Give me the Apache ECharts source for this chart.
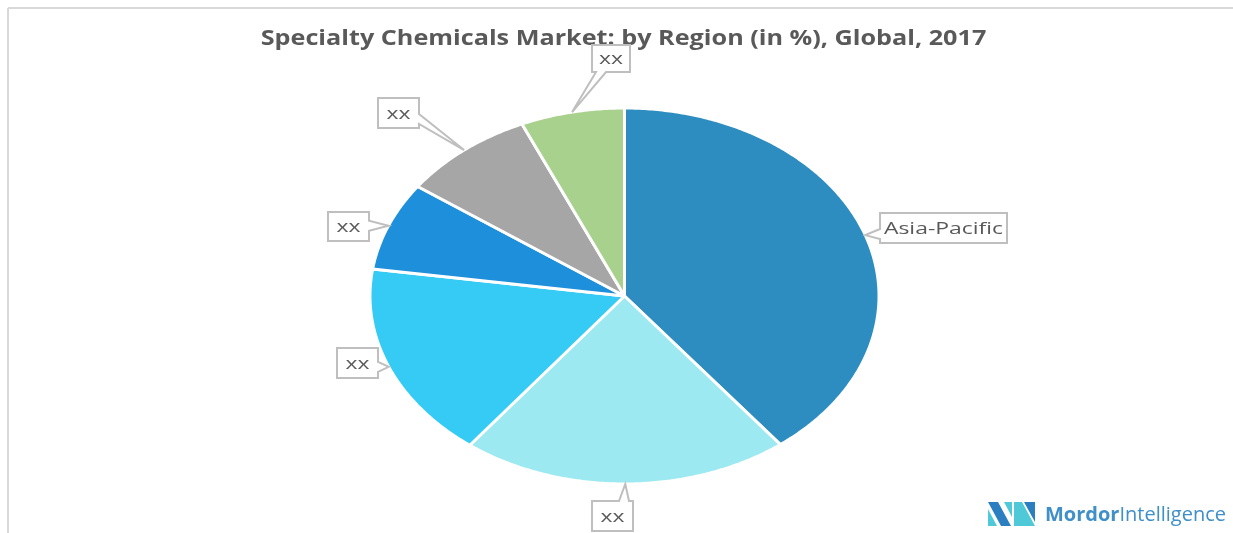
<!DOCTYPE html>
<html>
<head>
<meta charset="utf-8">
<script src="https://cdn.jsdelivr.net/npm/echarts@6/dist/echarts.min.js"></script>
<style>
  html, body { margin: 0; padding: 0; background: #fff; }
  #chart { width: 1233px; height: 533px; }
</style>
</head>
<body>
<div id="chart"></div>
<script>
// data, clockwise from 12 o'clock
const regions = ['Asia-Pacific', 'xx', 'xx', 'xx', 'xx', 'xx'];
const shares = [39.5, 20.9, 16.9, 7.6, 8.5, 6.6];
const sliceColors = ['#2e8dc0', '#9ce9f1', '#36cbf5', '#1e8fdb', '#a6a6a6', '#a9d18e'];

// layout of the callout boxes: x, y, w, h, pointer side
const calloutBoxes = [
  [880, 213, 127, 30, 'left'],
  [592, 501, 41, 30, 'top'],
  [337, 348, 41, 30, 'right'],
  [328, 212, 41, 29, 'right'],
  [378, 98, 41, 30, 'right'],
  [592, 45, 38, 27, 'bottom']
];

const pie = { cx: 624.5, cy: 296, rx: 254.5, ry: 188 };
const total = shares.reduce((a, b) => a + b, 0);
let acc = 0;
const seriesData = shares.map((v, i) => {
  const item = { name: regions[i], value: [v, acc] };
  acc += v;
  return item;
});

function ellipsePt(a) {
  return [pie.cx + pie.rx * Math.sin(a), pie.cy - pie.ry * Math.cos(a)];
}

function calloutPath(box, tip) {
  const [x, y, w, h, side] = box;
  const m = 9, half = 5;
  const clamp = (v, lo, hi) => Math.max(lo, Math.min(hi, v));
  let pts;
  if (side === 'left') {
    const c = clamp(tip[1], y + m, y + h - m);
    pts = [[x, y], [x + w, y], [x + w, y + h], [x, y + h], [x, c + half], tip, [x, c - half]];
  } else if (side === 'right') {
    const c = clamp(tip[1], y + m, y + h - m);
    pts = [[x, y], [x + w, y], [x + w, c - half], tip, [x + w, c + half], [x + w, y + h], [x, y + h]];
  } else if (side === 'top') {
    const c = clamp(tip[0], x + m, x + w - m);
    pts = [[x, y], [c - half, y], tip, [c + half, y], [x + w, y], [x + w, y + h], [x, y + h]];
  } else {
    const c = clamp(tip[0], x + m, x + w - m);
    pts = [[x, y], [x + w, y], [x + w, y + h], [c + half, y + h], tip, [c - half, y + h], [x, y + h]];
  }
  return pts;
}

function renderItem(params, api) {
  const i = params.dataIndex;
  const v = api.value(0);
  const start = api.value(1);
  const a0 = start / total * Math.PI * 2;
  const a1 = (start + v) / total * Math.PI * 2;
  const steps = Math.max(4, Math.ceil((a1 - a0) / 0.01));
  const pts = [[pie.cx, pie.cy]];
  for (let k = 0; k <= steps; k++) {
    pts.push(ellipsePt(a0 + (a1 - a0) * k / steps));
  }
  const tip = ellipsePt((a0 + a1) / 2);
  const box = calloutBoxes[i];
  return {
    type: 'group',
    children: [
      {
        type: 'polygon',
        shape: { points: pts },
        style: { fill: sliceColors[i], stroke: '#ffffff', lineWidth: 3, lineJoin: 'round' },
        z2: 1
      },
      {
        type: 'polygon',
        shape: { points: calloutPath(box, tip) },
        style: { fill: '#ffffff', stroke: '#bfbfbf', lineWidth: 2 },
        z2: 10
      },
      {
        type: 'text',
        x: box[0] + box[2] / 2,
        y: box[1] + box[3] / 2 + 1,
        scaleX: 1.35,
        style: {
          text: regions[i],
          fill: '#595959',
          font: '17px "Open Sans"',
          align: 'center',
          verticalAlign: 'middle'
        },
        z2: 11
      }
    ]
  };
}

const chart = echarts.init(document.getElementById('chart'), null, { renderer: 'canvas' });
chart.setOption({
  backgroundColor: '#ffffff',
  animation: false,
  graphic: [
    { type: 'line', shape: { x1: 8, y1: 8, x2: 1233, y2: 8 }, style: { stroke: '#d9d9d9', lineWidth: 2 } },
    { type: 'line', shape: { x1: 8, y1: 8, x2: 8, y2: 533 }, style: { stroke: '#d9d9d9', lineWidth: 2 } },
    {
      type: 'text', x: 623.5, y: 39, scaleX: 1.2,
      style: {
        text: 'Specialty Chemicals Market: by Region (in %), Global, 2017',
        font: 'bold 21px "Open Sans"',
        fill: '#595959',
        align: 'center',
        verticalAlign: 'middle'
      }
    },
    // logo mark
    { type: 'polygon', shape: { points: [[988, 502], [998, 502], [1011, 526], [1001, 526]] }, style: { fill: '#2b7fc0' } },
    { type: 'polygon', shape: { points: [[988, 509], [988, 526], [997, 526]] }, style: { fill: '#4fc8d8' } },
    { type: 'polygon', shape: { points: [[1004, 502], [1012, 502], [1012, 517]] }, style: { fill: '#4fc8d8' } },
    { type: 'polygon', shape: { points: [[1014, 502], [1022, 502], [1035, 526], [1014, 526]] }, style: { fill: '#4fc8d8' } },
    { type: 'polygon', shape: { points: [[1024, 502], [1035, 502], [1035, 522]] }, style: { fill: '#2b7fc0' } },
    {
      type: 'text', x: 1045, y: 515,
      style: {
        text: '{b|Mordor}{r|Intelligence}',
        verticalAlign: 'middle',
        rich: {
          b: { font: 'bold 20px "Open Sans"', fill: '#3f8fc9' },
          r: { font: '20px "Open Sans"', fill: '#3f8fc9' }
        }
      }
    }
  ],
  series: [{
    type: 'custom',
    coordinateSystem: 'none',
    renderItem: renderItem,
    data: seriesData
  }]
});
</script>
</body>
</html>
